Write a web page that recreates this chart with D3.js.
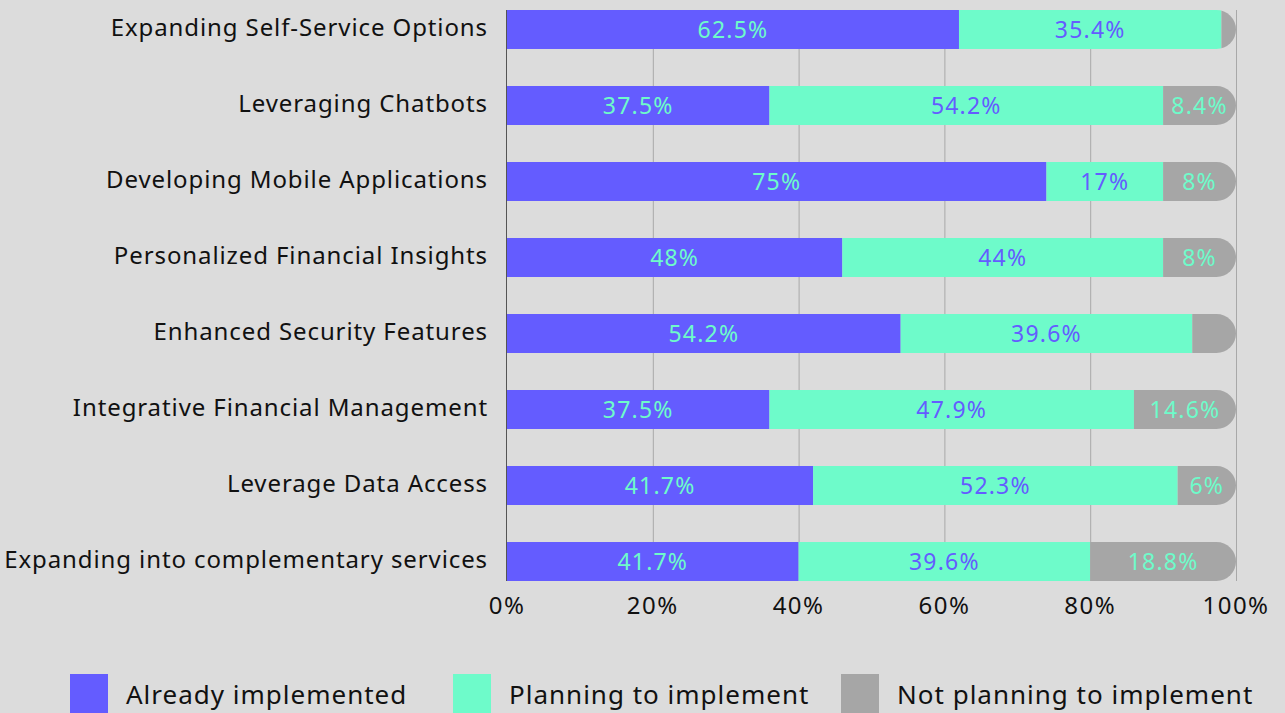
<!DOCTYPE html>
<html>
<head>
<meta charset="utf-8">
<script src="https://cdn.jsdelivr.net/npm/d3@7"></script>
<style>
  body { margin: 0; background: #dcdcdc; }
  svg { display: block; font-family: "Noto Sans", sans-serif; }
</style>
</head>
<body>
<script>
// Size of the page
const w = 1285;
const h = 713;

// Rows of the chart, top to bottom
const categories = [
  "Expanding Self-Service Options",
  "Leveraging Chatbots",
  "Developing Mobile Applications",
  "Personalized Financial Insights",
  "Enhanced Security Features",
  "Integrative Financial Management",
  "Leverage Data Access",
  "Expanding into complementary services"
];
// Segment widths as drawn (percent)
const alreadyValues = [62, 36, 74, 46, 54, 36, 42, 40];
const planningValues = [36, 54, 16, 44, 40, 50, 50, 40];
const notValues = [2, 10, 10, 10, 6, 14, 8, 20];
// Text printed on the segments
const alreadyLabels = ["62.5%", "37.5%", "75%", "48%", "54.2%", "37.5%", "41.7%", "41.7%"];
const planningLabels = ["35.4%", "54.2%", "17%", "44%", "39.6%", "47.9%", "52.3%", "39.6%"];
const notLabels = ["", "8.4%", "8%", "8%", "", "14.6%", "6%", "18.8%"];
// Axis ticks
const tickValues = [0, 20, 40, 60, 80, 100];
// Legend names
const seriesNames = ["Already implemented", "Planning to implement", "Not planning to implement"];

const purple = "#645cff";
const green = "#6efbca";
const grey = "#a6a6a6";
const colors = [purple, green, grey];
const labelColors = [green, purple, green];

const svg = d3.select("body").append("svg")
  .attr("width", w)
  .attr("height", h);

// x: percent to pixels
const x = d3.scaleLinear().domain([0, 100]).range([507, 1236]);
// y: one band per category
const y = d3.scaleBand().domain(categories).range([10, 581]).paddingInner(0.487).paddingOuter(0);
const bw = y.bandwidth();

// Grid lines behind the bars
svg.append("g")
  .selectAll("line")
  .data(tickValues.slice(1))
  .enter()
  .append("line")
  .attr("x1", d => x(d) + 0.5)
  .attr("x2", d => x(d) + 0.5)
  .attr("y1", y.range()[0])
  .attr("y2", y.range()[1])
  .attr("stroke", "#a8a8a8")
  .attr("stroke-width", 1);

// Zero line
svg.append("line")
  .attr("x1", x(0) - 0.5)
  .attr("x2", x(0) - 0.5)
  .attr("y1", y.range()[0])
  .attr("y2", y.range()[1])
  .attr("stroke", "#555")
  .attr("stroke-width", 1);

// Build the stacked rows
const rows = categories.map((c, i) => {
  const vals = [alreadyValues[i], planningValues[i], notValues[i]];
  const labs = [alreadyLabels[i], planningLabels[i], notLabels[i]];
  let start = 0;
  const segs = vals.map((v, k) => {
    const s = { k: k, x0: start, x1: start + v, label: labs[k] };
    start += v;
    return s;
  });
  return { name: c, index: i, segs: segs, total: start };
});

// Clip paths give each row a rounded right end
const defs = svg.append("defs");
rows.forEach(r => {
  const x0 = x(0), x1 = x(r.total), y0 = y(r.name), rr = bw / 2;
  defs.append("clipPath")
    .attr("id", "clip" + r.index)
    .append("path")
    .attr("d", `M${x0},${y0}H${x1 - rr}A${rr},${rr} 0 0 1 ${x1},${y0 + rr}` +
      `A${rr},${rr} 0 0 1 ${x1 - rr},${y0 + bw}H${x0}Z`);
});

const rowG = svg.selectAll(".row")
  .data(rows)
  .enter()
  .append("g")
  .attr("class", "row");

rowG.append("g")
  .attr("clip-path", d => `url(#clip${d.index})`)
  .selectAll("rect")
  .data(d => d.segs.map(s => Object.assign({ name: d.name }, s)))
  .enter()
  .append("rect")
  .attr("x", d => x(d.x0))
  .attr("y", d => y(d.name))
  .attr("width", d => x(d.x1) - x(d.x0))
  .attr("height", bw)
  .attr("fill", d => colors[d.k]);

// Percent labels in the middle of each segment
rowG.selectAll("text.val")
  .data(d => d.segs.map(s => Object.assign({ name: d.name }, s)))
  .enter()
  .append("text")
  .attr("class", "val")
  .attr("x", d => (x(d.x0) + x(d.x1)) / 2)
  .attr("y", d => y(d.name) + bw / 2)
  .attr("dy", "0.36em")
  .attr("text-anchor", "middle")
  .attr("font-size", 23)
  .attr("letter-spacing", 1.2)
  .attr("fill", d => labelColors[d.k])
  .text(d => d.label);

// Category names on the left
svg.append("g")
  .selectAll("text")
  .data(categories)
  .enter()
  .append("text")
  .attr("x", 488)
  .attr("y", d => y(d) + bw / 2)
  .attr("dy", "0.28em")
  .attr("text-anchor", "end")
  .attr("font-size", 24)
  .attr("letter-spacing", 0.9)
  .attr("fill", "#111")
  .text(d => d);

// Bottom axis labels
svg.append("g")
  .selectAll("text")
  .data(tickValues)
  .enter()
  .append("text")
  .attr("x", d => x(d))
  .attr("y", 614)
  .attr("text-anchor", "middle")
  .attr("font-size", 24)
  .attr("letter-spacing", 1.5)
  .attr("fill", "#111")
  .text(d => d + "%");

// Legend
const legendX = [70, 453, 841];
const legend = svg.append("g")
  .selectAll("g")
  .data(seriesNames)
  .enter()
  .append("g")
  .attr("transform", (d, i) => `translate(${legendX[i]},674)`);

legend.append("rect")
  .attr("width", 38)
  .attr("height", 39)
  .attr("fill", (d, i) => colors[i]);

legend.append("text")
  .attr("x", 56)
  .attr("y", 30)
  .attr("font-size", 26)
  .attr("letter-spacing", 1.0)
  .attr("fill", "#111")
  .text(d => d);
</script>
</body>
</html>
